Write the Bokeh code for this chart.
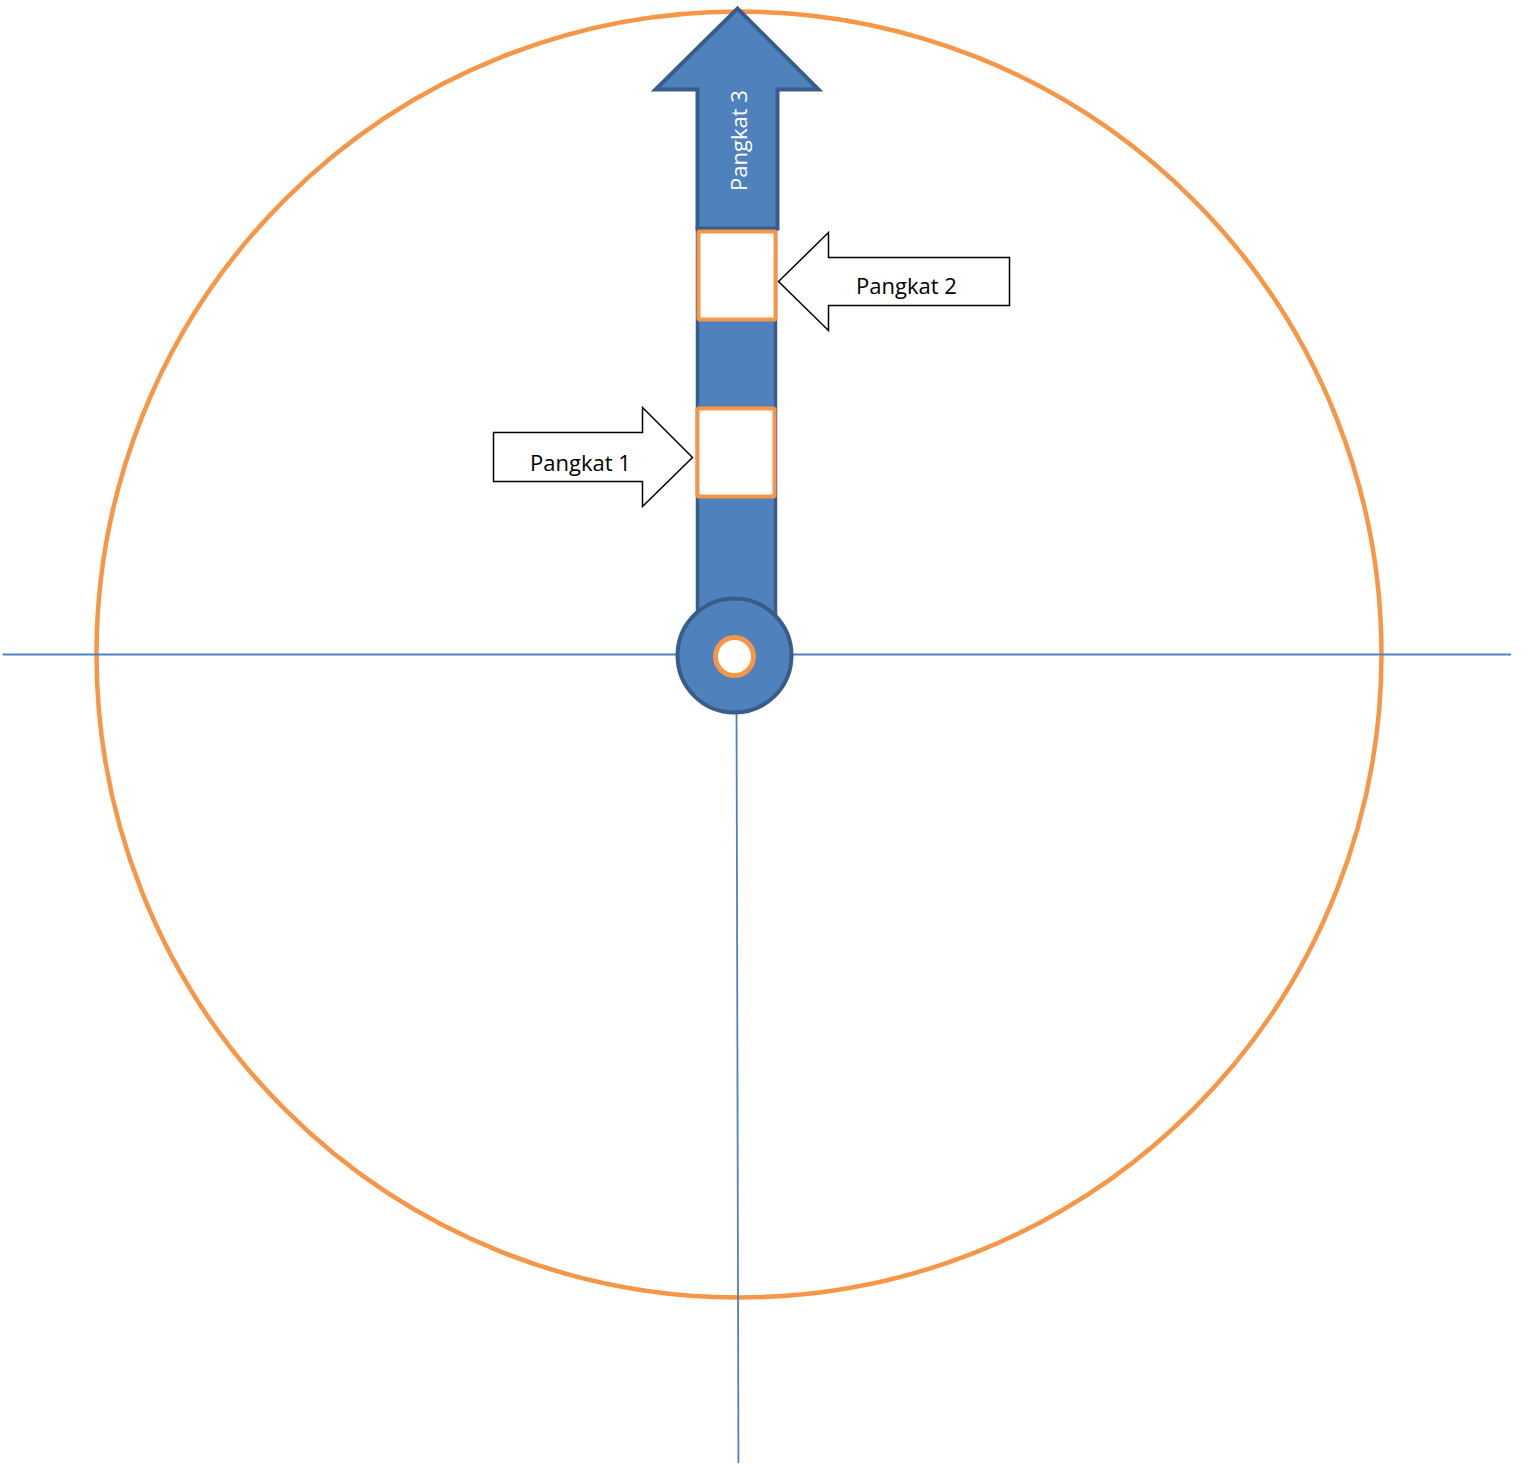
from bokeh.plotting import figure
from bokeh.models import Range1d
from bokeh.embed import file_html
from bokeh.resources import INLINE
from bokeh.core.properties import value
import math

# ---- diagram parameters (reference pixel space, y measured from top) ----
H = 1479
ORANGE = "#F79646"
BLUE = "#4F81BD"
DARK = "#385D8A"

big_circle = dict(cx=738.5, cy=654, rx=642.5, ry=643)
h_axis = dict(x0=2, x1=1515, y=654)
v_axis = dict(x0=736, y0=700, x1=738, y1=1479)
shaft = dict(x0=697, x1=775, y0=225, y1=625)
head_arrow = dict(body_x0=697, body_x1=777, body_y=228, base_y=89, head_x0=655, head_x1=818, tip_x=737, tip_y=8)
boxes_x0 = [698, 697]
boxes_x1 = [775, 774]
boxes_y0 = [231, 408]
boxes_y1 = [319, 496]
hub = dict(cx=734, cy=655, r=57)
pin = dict(cx=734, cy=656, r=19)

labels = ["Pangkat 1", "Pangkat 2", "Pangkat 3"]
label_x = [580, 906, 737]
label_y = [461, 284, 140]
label_angle = [0, 0, math.pi / 2]
label_color = ["black", "black", "white"]

arrow2 = dict(tip_x=778, tip_y=281, base_x=828, head_top=232, head_bot=330, body_top=257, body_bot=305, tail_x=1009)
arrow1 = dict(tip_x=692, tip_y=457, base_x=642, head_top=407, head_bot=506, body_top=432, body_bot=481, tail_x=493)


def Y(v):
    return H - v


p = figure(width=1511, height=1463, output_backend="svg", toolbar_location=None,
           x_range=Range1d(0, 1511), y_range=Range1d(Y(1463), Y(0)),
           min_border=0, outline_line_color=None, background_fill_color="white")
p.axis.visible = False
p.grid.visible = False

p.ellipse(x=[big_circle["cx"]], y=[Y(big_circle["cy"])], width=[2 * big_circle["rx"]],
          height=[2 * big_circle["ry"]], fill_color=None, line_color=ORANGE, line_width=4.5)

p.line([h_axis["x0"], h_axis["x1"]], [Y(h_axis["y"]), Y(h_axis["y"])], line_color=BLUE, line_width=1.8)
p.line([v_axis["x0"], v_axis["x1"]], [Y(v_axis["y0"]), Y(v_axis["y1"])], line_color=BLUE, line_width=1.8)

p.quad(left=[shaft["x0"]], right=[shaft["x1"]], top=[Y(shaft["y0"])], bottom=[Y(shaft["y1"])],
       fill_color=BLUE, line_color=DARK, line_width=3.5)

a = head_arrow
ax = [a["body_x0"], a["body_x0"], a["head_x0"], a["tip_x"], a["head_x1"], a["body_x1"], a["body_x1"]]
ay = [a["body_y"], a["base_y"], a["base_y"], a["tip_y"], a["base_y"], a["base_y"], a["body_y"]]
p.patch(ax, [Y(v) for v in ay], fill_color=BLUE, line_color=DARK, line_width=4, line_join="miter")

p.quad(left=boxes_x0, right=boxes_x1, top=[Y(v) for v in boxes_y0], bottom=[Y(v) for v in boxes_y1],
       fill_color="white", line_color=ORANGE, line_width=4)

p.circle(x=[hub["cx"]], y=[Y(hub["cy"])], radius=hub["r"], fill_color=BLUE, line_color=DARK, line_width=4)
p.circle(x=[pin["cx"]], y=[Y(pin["cy"])], radius=pin["r"], fill_color="white", line_color=ORANGE, line_width=5)

for ar in (arrow2, arrow1):
    xs = [ar["tip_x"], ar["base_x"], ar["base_x"], ar["tail_x"], ar["tail_x"], ar["base_x"], ar["base_x"]]
    ys = [ar["tip_y"], ar["head_top"], ar["body_top"], ar["body_top"], ar["body_bot"], ar["body_bot"], ar["head_bot"]]
    p.patch(xs, [Y(v) for v in ys], fill_color="white", line_color="black", line_width=1.5, line_join="miter")

p.text(x=label_x, y=[Y(v) for v in label_y], text=labels, angle=label_angle, text_color=label_color,
       text_font=value("Open Sans"), text_font_size="22px", text_align="center", text_baseline="middle")

open("out.html", "w").write(file_html(p, INLINE))
